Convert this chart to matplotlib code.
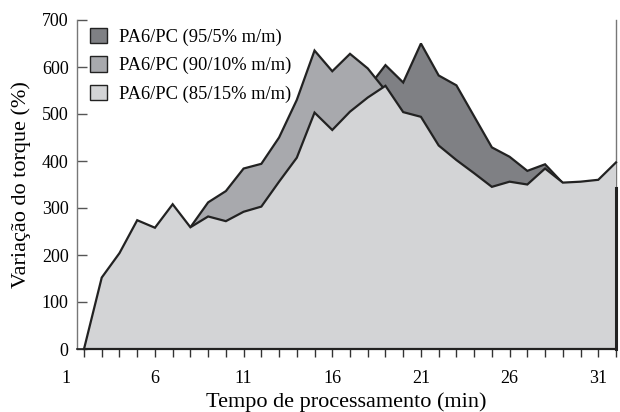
import matplotlib
matplotlib.use("Agg")
import matplotlib.pyplot as plt
from matplotlib.patches import Patch

plt.rcParams['font.family'] = ['Liberation Serif', 'DejaVu Serif']

# ---- data ----
x_light = list(range(2, 33))
y_light = [0, 152, 204, 274, 258, 308, 259, 282, 272, 292, 303, 356, 407, 503, 466,
           505, 535, 560, 504, 494, 433, 402, 374, 345, 356, 350, 384, 354, 356, 360, 397]
x_medium = list(range(8, 20))
y_medium = [259, 312, 336, 384, 394, 450, 530, 635, 591, 628, 597, 550]
x_dark = list(range(18, 30))
y_dark = [555, 604, 567, 650, 582, 561, 495, 429, 409, 379, 393, 353]
labels = ["PA6/PC (95/5% m/m)", "PA6/PC (90/10% m/m)", "PA6/PC (85/15% m/m)"]
xtick_vals = [1, 6, 11, 16, 21, 26, 31]
ytick_vals = [0, 100, 200, 300, 400, 500, 600, 700]
right_edge_val = 342

colors = ["#7f8084", "#a8a9ad", "#d3d4d6"]
edge = "#222222"

fig = plt.figure(figsize=(6.2, 4.12), dpi=100)
ax = fig.add_axes([77/620, 1-349/412, (616-77)/620, (349-20)/412])

series = [(x_dark, y_dark), (x_medium, y_medium), (x_light, y_light)]
for i, ((xs, ys), c) in enumerate(zip(series, colors)):
    ax.fill_between(xs, 0, ys, facecolor=c, edgecolor='none', zorder=1 + i)
    ax.plot(xs, ys, color=edge, lw=1.6, zorder=1.5 + i, solid_joinstyle='miter',
            clip_on=False)
ax.plot([x_light[0], x_light[-1]], [0, 0], color=edge, lw=1.6, zorder=5, clip_on=False)
ax.plot([x_light[-1], x_light[-1]], [0, right_edge_val], color=edge, lw=2.2, zorder=5,
        clip_on=False)

ax.set_xlim(1.605, 32)
ax.set_ylim(0, 700)

for s in ['left', 'right']:
    ax.spines[s].set_color('#777777')
    ax.spines[s].set_linewidth(1.0)
ax.spines['top'].set_visible(False)
ax.spines['bottom'].set_color(edge)
ax.spines['bottom'].set_linewidth(1.2)

TICK_LEN = 6
TICK_PAD = 9
ax.set_yticks(ytick_vals)
ax.tick_params(axis='y', direction='in', length=7, width=1.0, color='#555555',
               labelsize=13, pad=6)
ax.set_xticks(range(2, 33), minor=True)
ax.set_xticks([v for v in xtick_vals if v >= 2])
ax.set_xticklabels([str(v) for v in xtick_vals if v >= 2])
ax.tick_params(axis='x', which='both', direction='out', length=TICK_LEN, width=1.0,
               color='#333333', labelsize=13, pad=TICK_PAD)
for v in xtick_vals:
    if v < 2:
        ax.annotate(str(v), xy=(v, 0), xycoords=('data', 'axes fraction'),
                    xytext=(0, -(TICK_LEN + TICK_PAD)), textcoords='offset points',
                    ha='center', va='top', fontsize=13, annotation_clip=False)

ax.set_xlabel("Tempo de processamento (min)", fontsize=16, labelpad=4)
ax.set_ylabel("Variação do torque (%)", fontsize=16, labelpad=8)

handles = [Patch(facecolor=c, edgecolor=edge, linewidth=1.0) for c in colors]
ax.legend(handles, labels, loc='upper left', bbox_to_anchor=(0.0, 1.015),
          frameon=False, fontsize=13.3, handlelength=0.9, handleheight=0.9,
          handletextpad=0.7, labelspacing=0.55, borderaxespad=0.3)

fig.savefig("out.png", dpi=100)
